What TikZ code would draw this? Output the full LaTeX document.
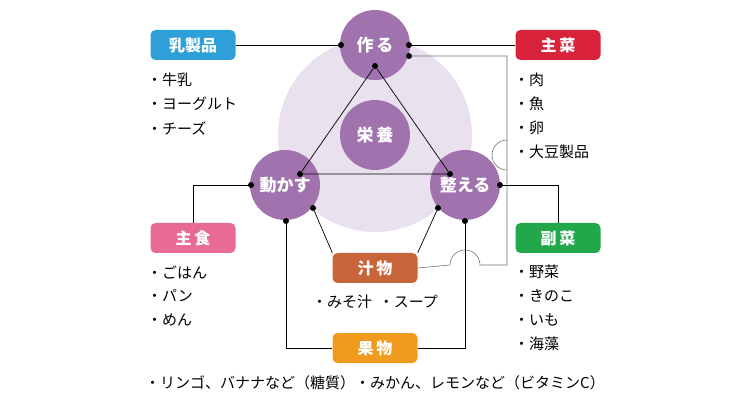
\documentclass[tikz,border=0pt]{standalone}
\usepackage{fontspec}
\setmainfont{Noto Sans CJK JP}
\newfontfamily\boldjp[BoldFont={Noto Sans CJK JP Bold}]{Noto Sans CJK JP}
\definecolor{purp}{HTML}{A173AE}
\definecolor{lightpurp}{HTML}{E9E1EE}
\definecolor{blueb}{HTML}{2E9FD9}
\definecolor{redb}{HTML}{D9233A}
\definecolor{pinkb}{HTML}{E86A96}
\definecolor{greenb}{HTML}{22A84A}
\definecolor{brownb}{HTML}{C8643A}
\definecolor{orangeb}{HTML}{F09A1E}
\begin{document}
\begin{tikzpicture}
        [x=1pt,y=-1pt, every node/.style={inner sep=0},
         role/.style={circle,fill=purp,minimum size=70pt,text=white,font=\fontsize{17}{17}\selectfont\bfseries},
         group/.style={rounded corners=5pt,minimum width=85pt,minimum height=30pt,text=white,font=\fontsize{16}{16}\selectfont\bfseries},
         dot/.style={circle,fill=black,minimum size=6pt},
         item/.style={anchor=west,font=\fontsize{15}{15}\selectfont},
         link/.style={line width=0.7pt, black},
         thin/.style={line width=0.6pt, black!55}]

        \useasboundingbox (0,0) rectangle (750,406);
        \fill[lightpurp] (375,135) circle (97);

        \node[role] (make) at (375,45) {作\,る};
        \node[role] (food) at (375,135) {栄\,養};
        \node[role] (move) at (285,185) {動かす};
        \node[role] (tune) at (465,185) {整える};

        \node[group,fill=blueb] (dairy) at (193,45) {乳製品};
        \node[group,fill=redb] (main) at (558,45) {主\,菜};
        \node[group,fill=pinkb] (staple) at (193,238) {主\,食};
        \node[group,fill=greenb] (side) at (558,238) {副\,菜};
        \node[group,fill=brownb] (soup) at (375,268) {汁\,物};
        \node[group,fill=orangeb] (fruit) at (375,348) {果\,物};

        \node[dot] (m1) at (341,45) {};
        \node[dot] (m2) at (409,45) {};
        \node[dot] (m3) at (409,56) {};
        \node[dot] (m4) at (375,66) {};
        \node[dot] (v1) at (251,185) {};
        \node[dot] (v2) at (300,174) {};
        \node[dot] (v3) at (313,208) {};
        \node[dot] (v4) at (286,221) {};
        \node[dot] (t1) at (500,185) {};
        \node[dot] (t2) at (450,174) {};
        \node[dot] (t3) at (438,208) {};
        \node[dot] (t4) at (465,221) {};
        \coordinate (bend) at (507,56);

        \draw[link] (dairy) -- (m1);
        \draw[link] (m2) -- (main);
        \draw[link] (m4) -- (v2) -- (t2) -- (m4);
        \draw[link] (v1) -| (staple);
        \draw[link] (t1) -| (side);
        \draw[link] (v3) -- (soup.north west);
        \draw[link] (t3) -- (soup.north east);
        \draw[link] (v4) |- (fruit);
        \draw[link] (t4) |- (fruit);
        \draw[thin] (m3) -- (bend) -- (507,170) arc (-90:90:-15) -- (507,265)
          -- (480,265) arc (0:-180:15) -- (soup.east);

        \node[item] at (147,80) {・牛乳};
        \node[item] at (147,104) {・ヨーグルト};
        \node[item] at (147,128) {・チーズ};
        \node[item] at (514,80) {・肉};
        \node[item] at (514,104) {・魚};
        \node[item] at (514,128) {・卵};
        \node[item] at (514,152) {・大豆製品};
        \node[item] at (147,272) {・ごはん};
        \node[item] at (147,296) {・パン};
        \node[item] at (147,320) {・めん};
        \node[item] at (514,272) {・野菜};
        \node[item] at (514,296) {・きのこ};
        \node[item] at (514,320) {・いも};
        \node[item] at (514,344) {・海藻};
        \node[item,anchor=center] at (375,302) {・みそ汁\ \ ・スープ};
        \node[item,anchor=center] at (375,383) {・リンゴ、バナナなど（糖質）・みかん、レモンなど（ビタミンC）};
      \end{tikzpicture}
\end{document}
